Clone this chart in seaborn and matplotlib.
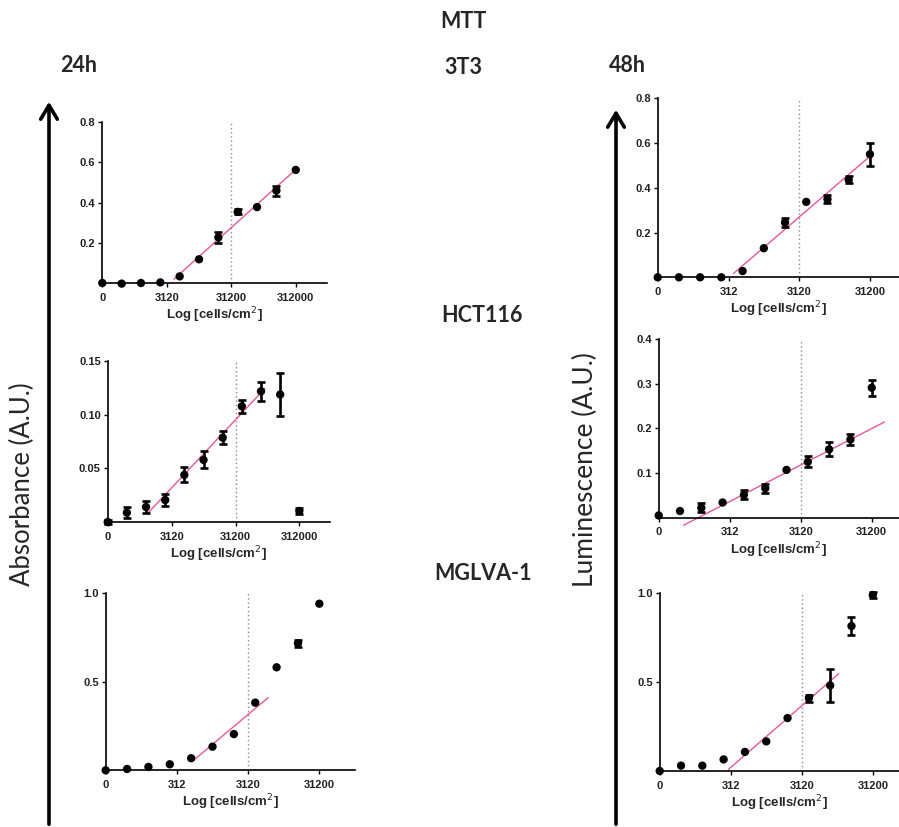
import numpy as np
import pandas as pd
import matplotlib
matplotlib.use("Agg")
import matplotlib.pyplot as plt
from matplotlib.patches import FancyArrowPatch
import seaborn as sns

sns.set_style("ticks")
plt.rcParams['font.family'] = ['Liberation Sans', 'DejaVu Sans']

# ---------------- data ----------------
dilution_step = list(range(11))          # two-fold dilution series, step 0 = blank

# 24h MTT absorbance
abs_3t3 = [0.0, -0.003, 0.0, 0.003, 0.033, 0.118, 0.227, 0.354, 0.378, 0.46, 0.563]
abs_3t3_err = [0, 0, 0, 0, 0, 0, 0.028, 0.012, 0, 0.025, 0]
abs_hct = [0.0, 0.0087, 0.014, 0.0205, 0.044, 0.058, 0.0787, 0.108, 0.122, 0.119, 0.0103]
abs_hct_err = [0.002, 0.005, 0.006, 0.006, 0.007, 0.008, 0.006, 0.006, 0.009, 0.020, 0.0025]
abs_mglva = [0.0, 0.0075, 0.019, 0.034, 0.068, 0.133, 0.204, 0.381, 0.58, 0.715, 0.938]
abs_mglva_err = [0, 0, 0, 0, 0, 0, 0, 0, 0, 0.02, 0]

# 48h luminescence
lum_3t3 = [0.0, 0.0, 0.0, 0.0, 0.028, 0.13, 0.245, 0.337, 0.349, 0.436, 0.55]
lum_3t3_err = [0, 0, 0, 0, 0, 0, 0.018, 0, 0.018, 0.015, 0.052]
lum_hct = [0.005, 0.015, 0.022, 0.034, 0.051, 0.066, 0.107, 0.125, 0.153, 0.175, 0.291]
lum_hct_err = [0, 0, 0.010, 0, 0.010, 0.010, 0, 0.012, 0.016, 0.012, 0.018]
lum_mglva = [0.0, 0.03, 0.03, 0.065, 0.107, 0.166, 0.297, 0.409, 0.48, 0.813, 0.987]
lum_mglva_err = [0, 0, 0, 0, 0, 0, 0, 0.02, 0.093, 0.05, 0.015]

# highest seeding density of each series (cells/cm2) and x tick labels
max_density = {"24h_3T3": 312000, "24h_HCT": 312000, "24h_MGLVA": 31200,
               "48h_3T3": 31200, "48h_HCT": 31200, "48h_MGLVA": 31200}
xticks_high = [0, 3120, 31200, 312000]
xticks_low = [0, 312, 3120, 31200]

# linear-range fits: points used, and extent of the drawn line (in dilution steps)
fit_points = {"24h_3T3": (4, 10), "24h_HCT": (2, 8), "24h_MGLVA": (4, 7),
              "48h_3T3": (4, 10), "48h_HCT": (3, 9), "48h_MGLVA": (4, 7)}
fit_extent = {"24h_3T3": (3.7, 10.0), "24h_HCT": (2.07, 8.2), "24h_MGLVA": (4.1, 7.6),
              "48h_3T3": (3.57, 10.0), "48h_HCT": (1.16, 10.6), "48h_MGLVA": (3.23, 8.4)}
ref_line = {"24h_3T3": 31200, "24h_HCT": 31200, "24h_MGLVA": 3120,
            "48h_3T3": 3120, "48h_HCT": 3120, "48h_MGLVA": 3120}

yticks = {"24h_3T3": [0.2, 0.4, 0.6, 0.8], "24h_HCT": [0.05, 0.10, 0.15],
          "24h_MGLVA": [0.5, 1.0], "48h_3T3": [0.2, 0.4, 0.6, 0.8],
          "48h_HCT": [0.1, 0.2, 0.3, 0.4], "48h_MGLVA": [0.5, 1.0]}
ytick_fmt = {"24h_3T3": "{:.1f}", "24h_HCT": "{:.2f}", "24h_MGLVA": "{:.1f}",
             "48h_3T3": "{:.1f}", "48h_HCT": "{:.1f}", "48h_MGLVA": "{:.1f}"}

# ---------------- layout ----------------
W, H = 899, 827
fig = plt.figure(figsize=(W / 100, H / 100), dpi=100)

# (left, right, top, bottom) in pixels, xlim right
panels = {
    "24h_3T3":   ((102.3, 326.7, 122.3, 283.0), 11.6, 0.8, abs_3t3, abs_3t3_err, xticks_high),
    "24h_HCT":   ((107.7, 330.0, 361.3, 522.0), 11.6, 0.15, abs_hct, abs_hct_err, xticks_high),
    "24h_MGLVA": ((105.7, 355.0, 592.7, 770.3), 11.67, 1.0, abs_mglva, abs_mglva_err, xticks_low),
    "48h_3T3":   ((657.7, 899.0, 98.3, 277.3), 11.37, 0.8, lum_3t3, lum_3t3_err, xticks_low),
    "48h_HCT":   ((658.7, 899.0, 339.0, 517.7), 11.28, 0.4, lum_hct, lum_hct_err, xticks_low),
    "48h_MGLVA": ((659.7, 899.0, 592.7, 771.0), 11.23, 1.0, lum_mglva, lum_mglva_err, xticks_low),
}

tick_font = dict(family=['Liberation Sans', 'DejaVu Sans'], weight='bold', size=8)


def step_of(density, top):
    if density == 0:
        return 0.0
    return 10 - np.log2(top / density)


for key, (box, xmax, ymax, vals, errs, xt) in panels.items():
    l, r, t, b = box
    ax = fig.add_axes([l / W, 1 - b / H, (r - l) / W, (b - t) / H])
    df = pd.DataFrame({"step": dilution_step, "value": vals, "err": errs})

    # reference dotted line
    ax.axvline(step_of(ref_line[key], max_density[key]), color="#8a8a8a",
               ls=(0, (1, 2)), lw=1.0, zorder=1)

    # linear fit of the linear range
    i0, i1 = fit_points[key]
    sub = df.iloc[i0:i1 + 1]
    slope, intercept = np.polyfit(sub["step"], sub["value"], 1)
    xs = np.array(fit_extent[key])
    fit_df = pd.DataFrame({"step": xs, "value": slope * xs + intercept})
    sns.lineplot(data=fit_df, x="step", y="value", ax=ax, color="#e8579b",
                 lw=1.0, zorder=2, clip_on=False)

    # error bars + points
    e = df[df["err"] > 0]
    ax.errorbar(e["step"], e["value"], yerr=e["err"], fmt="none", ecolor="black",
                elinewidth=1.9, capsize=2.8, capthick=1.9, zorder=3, clip_on=False)
    sns.scatterplot(data=df, x="step", y="value", ax=ax, color="black", s=36,
                    edgecolor="none", zorder=4, clip_on=False)

    ax.set_xlim(0, xmax)
    ax.set_ylim(0, ymax)
    ax.set_xticks([step_of(v, max_density[key]) for v in xt])
    ax.set_xticklabels([str(v) for v in xt], fontdict=tick_font, color="#222222")
    ax.set_yticks(yticks[key])
    ax.set_yticklabels([ytick_fmt[key].format(v) for v in yticks[key]],
                       fontdict=tick_font, color="#222222")
    ax.tick_params(axis="both", length=3, width=1.0, pad=2, color="black")
    ax.tick_params(axis="x", pad=4)
    for s in ("top", "right"):
        ax.spines[s].set_visible(False)
    for s in ("left", "bottom"):
        ax.spines[s].set_linewidth(1.2)
        ax.spines[s].set_color("black")
    ax.set_xlabel("Log [cells/cm$^{2}$]", fontsize=9.5, fontweight="bold",
                  family=['Liberation Sans', 'DejaVu Sans'], labelpad=2)
    ax.set_ylabel("")

# ---------------- titles and big arrows ----------------
title_font = dict(family=['Lato', 'DejaVu Sans'], weight='bold', fontsize=15.5,
                  ha='center', va='center')
fig.text(463 / W, 1 - 22 / H, "MTT", **title_font)
fig.text(463 / W, 1 - 68 / H, "3T3", **title_font)
fig.text(79 / W, 1 - 66 / H, "24h", **title_font)
fig.text(627 / W, 1 - 66 / H, "48h", **title_font)
fig.text(482 / W, 1 - 316 / H, "HCT116", **title_font)
fig.text(483 / W, 1 - 573 / H, "MGLVA-1", **title_font)

lab_font = dict(family=['Lato', 'DejaVu Sans'], rotation=90,
                ha='center', va='center')
fig.text(22 / W, 1 - 484 / H, "Absorbance (A.U.)", fontsize=18.5, **lab_font)
fig.text(585 / W, 1 - 470 / H, "Luminescence (A.U.)", fontsize=19, **lab_font)

for x, ytip in ((49, 99), (616, 107)):
    arr = FancyArrowPatch((x / W, 0.0), (x / W, 1 - ytip / H),
                          transform=fig.transFigure,
                          arrowstyle="->,head_length=0.5,head_width=0.3",
                          mutation_scale=20, lw=2.6, color="black")
    fig.add_artist(arr)

fig.savefig("out.png", dpi=100)
